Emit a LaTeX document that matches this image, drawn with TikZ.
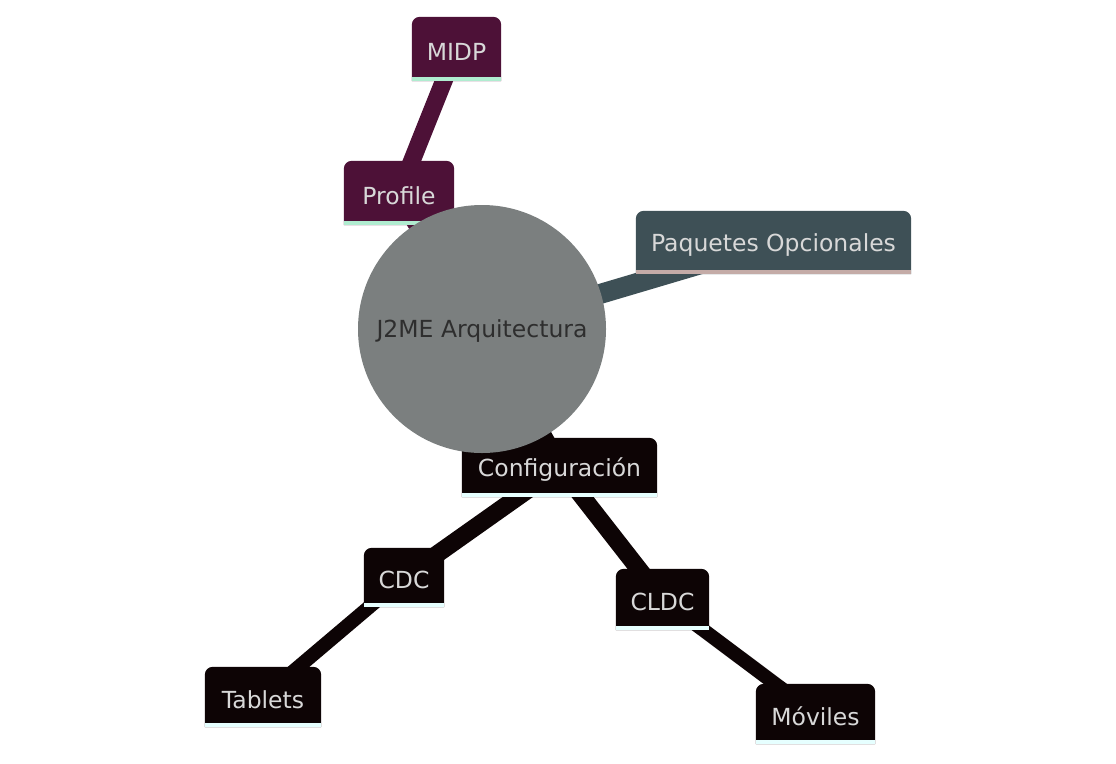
\documentclass[tikz,border=0pt]{standalone}
\usepackage{fontspec}
\setmainfont{DejaVu Sans}
\pgfdeclarelayer{edges}
\pgfdeclarelayer{bg}
\pgfsetlayers{edges,bg,main}
\definecolor{purp}{HTML}{4D1137}
\definecolor{mint}{HTML}{B0ECD0}
\definecolor{slate}{HTML}{3E5056}
\definecolor{rose}{HTML}{C4ABA7}
\definecolor{blk}{HTML}{0D0405}
\definecolor{ice}{HTML}{E6FFFF}
\definecolor{rootgray}{HTML}{7B7F7F}
\definecolor{roottext}{HTML}{2E2E2E}
\definecolor{lighttext}{HTML}{D8D8D8}
\newcommand{\mmlab}[1]{\raisebox{-2.5pt}[\height][\depth]{#1}}
\tikzset{
  mm/.style 2 args={rectangle, inner sep=0pt, minimum width=#1, minimum height=#2,
    text=lighttext, font=\fontsize{23.5}{26}\selectfont},
  e0/.style={line width=20pt},
  e1/.style={line width=17.5pt},
  e2/.style={line width=14pt},
}
\begin{document}
\begin{tikzpicture}[x=1pt,y=-1pt]
\useasboundingbox (0,0) rectangle (1116,763);
% root
\node[circle, fill=rootgray, minimum size=248pt, inner sep=0pt, text=roottext,
  font=\fontsize{23.5}{26}\selectfont] (root) at (482,329) {\mmlab{J2ME Arquitectura}};
% nodes
\node[mm={89pt}{64pt}] (midp) at (456.5,49) {\mmlab{MIDP}};
\node[mm={110pt}{64pt}] (profile) at (399,193) {\mmlab{Profile}};
\node[mm={275pt}{63pt}] (paq) at (773.5,242.5) {\mmlab{Paquetes Opcionales}};
\node[mm={195pt}{59pt}] (conf) at (559.5,467.5) {\mmlab{Configuración}};
\node[mm={80pt}{59pt}] (cdc) at (404,577.5) {\mmlab{CDC}};
\node[mm={93pt}{61pt}] (cldc) at (662.5,599.5) {\mmlab{CLDC}};
\node[mm={116pt}{60pt}] (tab) at (263,697) {\mmlab{Tablets}};
\node[mm={119pt}{60pt}] (mov) at (815.5,714) {\mmlab{Móviles}};
% node backgrounds
\begin{pgfonlayer}{bg}
\foreach \n/\c/\s in {midp/purp/mint, profile/purp/mint, paq/slate/rose,
  conf/blk/ice, cdc/blk/ice, cldc/blk/ice, tab/blk/ice, mov/blk/ice} {
  \fill[\c] (\n.south west) [rounded corners=8pt] -- (\n.north west) -- (\n.north east) [sharp corners] -- (\n.south east) -- cycle;
  \fill[\s] (\n.south west) rectangle ([yshift=4pt]\n.south east);
}
\end{pgfonlayer}
% edges
\begin{pgfonlayer}{edges}
\draw[e0, purp] (root.center) -- (profile.center);
\draw[e1, purp] (profile.center) -- (midp.center);
\draw[e0, slate] (root.center) -- (paq.center);
\draw[e0, blk] (root.center) -- (conf.center);
\draw[e1, blk] (conf.center) -- (cdc.center);
\draw[e1, blk] (conf.center) -- (cldc.center);
\draw[e2, blk] (cdc.center) -- (tab.center);
\draw[e2, blk] (cldc.center) -- (mov.center);
\end{pgfonlayer}
\end{tikzpicture}
\end{document}
